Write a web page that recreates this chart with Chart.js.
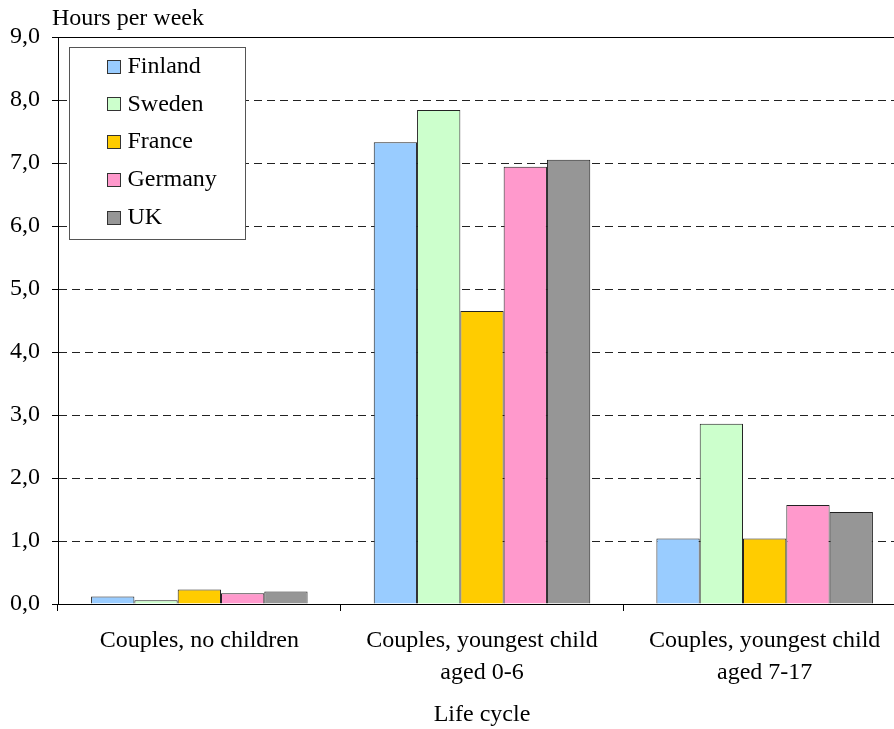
<!DOCTYPE html>
<html>
<head>
<meta charset="utf-8">
<script src="https://cdn.jsdelivr.net/npm/chart.js@4/dist/chart.umd.min.js"></script>
<style>
  html, body { margin: 0; padding: 0; background: #fff; overflow: hidden; }
  #wrap { position: relative; width: 912px; height: 729px; }
</style>
</head>
<body>
<div id="wrap"><canvas id="c"></canvas></div>
<script>
// Housework hours per week by life-cycle stage and country
const categories = [
  'Couples, no children',
  ['Couples, youngest child', 'aged 0-6'],
  ['Couples, youngest child', 'aged 7-17']
];
const countries = ['Finland', 'Sweden', 'France', 'Germany', 'UK'];
const finland = [0.12, 7.33, 1.04];
const sweden  = [0.06, 7.84, 2.86];
const france  = [0.23, 4.65, 1.04];
const germany = [0.17, 6.94, 1.57];
const uk      = [0.20, 7.05, 1.46];
const yTicks  = [0, 1, 2, 3, 4, 5, 6, 7, 8, 9];
const yTitle  = 'Hours per week';
const xTitle  = 'Life cycle';

const colors = ['#99CCFF', '#CCFFCC', '#FFCC00', '#FF99CC', '#969696'];
const series = [finland, sweden, france, germany, uk];
const FONT = 'Liberation Serif, "Times New Roman", serif';
const FS = 24;

// Framed legend inside the plot, plus the unit label and top frame line
const decorations = {
  id: 'decorations',
  afterDraw(chart) {
    const ctx = chart.ctx;
    const a = chart.chartArea;
    ctx.save();
    // solid top frame line
    ctx.strokeStyle = '#000';
    ctx.lineWidth = 1;
    ctx.beginPath();
    ctx.moveTo(a.left - 6, a.top + 0.5);
    ctx.lineTo(a.right, a.top + 0.5);
    ctx.stroke();

    // unit label
    ctx.fillStyle = '#000';
    ctx.font = FS + 'px ' + FONT;
    ctx.textAlign = 'left';
    ctx.textBaseline = 'middle';
    ctx.fillText(yTitle, a.left - 6, a.top - 18);

    // legend box
    const bx = a.left + 11.5, by = a.top + 10.5, bw = 176, bh = 192;
    ctx.fillStyle = '#fff';
    ctx.fillRect(bx, by, bw, bh);
    ctx.strokeStyle = '#555';
    ctx.strokeRect(bx, by, bw, bh);
    chart.data.datasets.forEach((ds, i) => {
      const cy = by + 19 + i * 37.8;
      ctx.fillStyle = ds.backgroundColor;
      ctx.fillRect(bx + 38, Math.round(cy - 7) + 0.5, 13, 13);
      ctx.strokeStyle = '#333';
      ctx.strokeRect(bx + 38, Math.round(cy - 7) + 0.5, 13, 13);
      ctx.fillStyle = '#000';
      ctx.font = FS + 'px ' + FONT;
      ctx.textBaseline = 'middle';
      ctx.fillText(ds.label, bx + 58, cy);
    });
    ctx.restore();
  }
};

new Chart(document.getElementById('c'), {
  type: 'bar',
  data: {
    labels: categories,
    datasets: countries.map((name, i) => ({
      label: name,
      data: series[i],
      backgroundColor: colors[i],
      borderColor: '#222',
      borderWidth: 1,
      categoryPercentage: 0.766,
      barPercentage: 1.0
    }))
  },
  options: {
    responsive: true,
    maintainAspectRatio: false,
    animation: false,
    layout: { padding: { top: 37, right: 6, left: 0, bottom: 0 } },
    plugins: {
      legend: { display: false },
      tooltip: { enabled: false }
    },
    scales: {
      x: {
        offset: true,
        grid: {
          offset: true,
          drawOnChartArea: false,
          drawTicks: true,
          tickLength: 7,
          tickColor: '#000',
          color: '#000'
        },
        border: { display: true, color: '#000', width: 1 },
        ticks: {
          color: '#000',
          font: { family: FONT, size: FS, lineHeight: 1.333 },
          padding: 14,
          maxRotation: 0,
          autoSkip: false
        },
        title: {
          display: true,
          text: xTitle,
          color: '#000',
          font: { family: FONT, size: FS },
          padding: { top: 0, bottom: 0 }
        },
        afterFit(scale) { scale.height = 125; }
      },
      y: {
        min: 0,
        max: 9,
        afterBuildTicks(scale) { scale.ticks = yTicks.map(v => ({ value: v })); },
        grid: {
          color: '#222',
          lineWidth: 1,
          drawTicks: true,
          tickLength: 6,
          tickColor: '#000',
          tickBorderDash: []
        },
        border: { display: true, color: '#000', width: 1, dash: [8, 5] },
        ticks: {
          color: '#000',
          font: { family: FONT, size: FS },
          padding: 12,
          callback: v => v.toFixed(1).replace('.', ',')
        },
        afterFit(scale) { scale.width = 58; }
      }
    }
  },
  plugins: [decorations]
});
</script>
</body>
</html>
